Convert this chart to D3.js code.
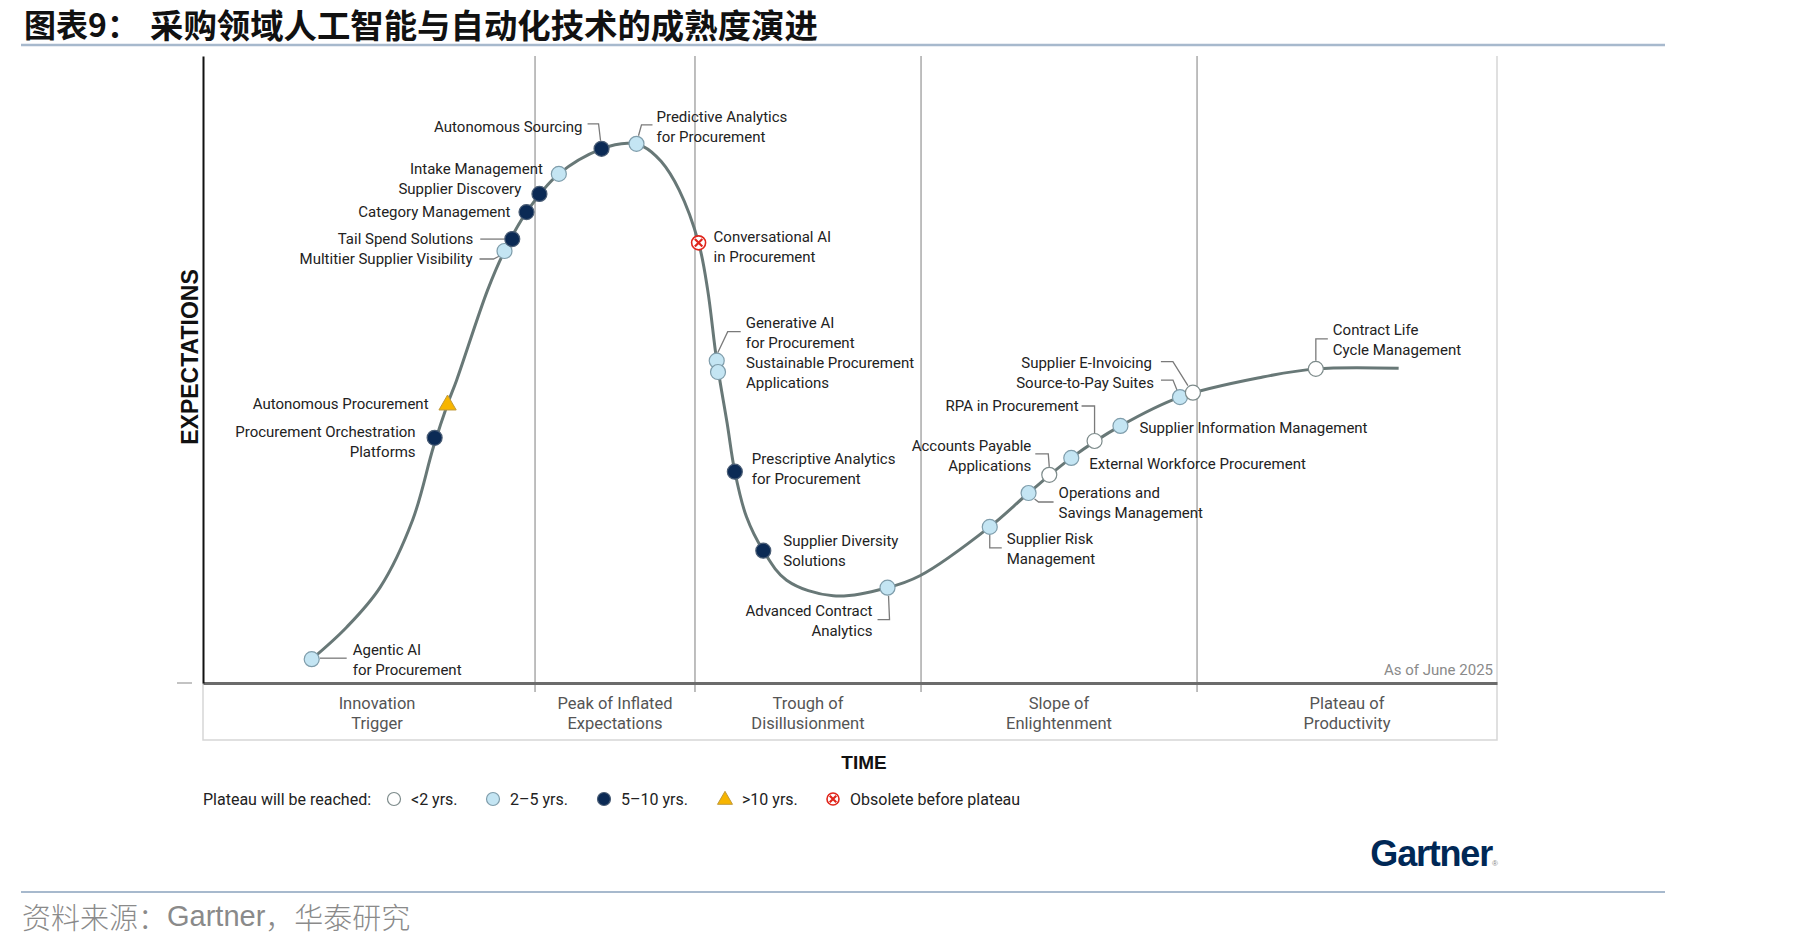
<!DOCTYPE html>
<html lang="zh">
<head>
  <meta charset="UTF-8">
  <title>采购领域人工智能与自动化技术的成熟度演进</title>
  <script src="https://d3js.org/d3.v7.min.js"></script>
  <style>
    body { margin: 0; background: #fff; }
    svg { display: block; }
  </style>
</head>
<body>
  <div class="canvas"></div>
  <script>
    // ---- data (time 0-100, expectations 0-100) ----
    const names = [
      'Agentic AI\nfor Procurement',
      'Procurement Orchestration\nPlatforms',
      'Autonomous Procurement',
      'Multitier Supplier Visibility',
      'Tail Spend Solutions',
      'Category Management',
      'Supplier Discovery',
      'Intake Management',
      'Autonomous Sourcing',
      'Predictive Analytics\nfor Procurement',
      'Conversational AI\nin Procurement',
      'Generative AI\nfor Procurement',
      'Sustainable Procurement\nApplications',
      'Prescriptive Analytics\nfor Procurement',
      'Supplier Diversity\nSolutions',
      'Advanced Contract\nAnalytics',
      'Supplier Risk\nManagement',
      'Operations and\nSavings Management',
      'Accounts Payable\nApplications',
      'External Workforce Procurement',
      'RPA in Procurement',
      'Supplier Information Management',
      'Source-to-Pay Suites',
      'Supplier E-Invoicing',
      'Contract Life\nCycle Management'
    ];
    const timeVals = [8.4, 17.9, 18.9, 23.3, 23.9, 25.0, 26.0, 27.5, 30.8, 33.5, 38.3, 39.7, 39.8,
                      41.1, 43.3, 52.9, 60.8, 63.8, 65.4, 67.1, 68.9, 70.9, 75.5, 76.5, 86.0];
    const expectVals = [3.8, 39.1, 44.5, 68.9, 70.8, 75.1, 78.0, 81.2, 85.2, 86.0, 70.2, 51.4, 49.6,
                        33.7, 21.1, 15.2, 24.9, 30.3, 33.2, 35.9, 38.6, 41.0, 45.6, 46.3, 50.1];
    const plateau = ['2-5', '5-10', '>10', '2-5', '5-10', '5-10', '5-10', '2-5', '5-10', '2-5',
                     'obsolete', '2-5', '2-5', '5-10', '5-10', '2-5', '2-5', '2-5', '<2', '2-5',
                     '<2', '2-5', '2-5', '<2', '<2'];

    // hype curve anchors [time, expectations]
    const curveT = [8.4, 11.1, 13.7, 16.2, 17.8, 18.9, 19.6, 22.0, 23.3, 25.0, 27.5, 30.8, 32.8, 34.0,
                    35.4, 36.8, 38.3, 39.0, 39.7, 40.5, 41.1, 42.0, 43.3, 45.1, 48.7, 52.9, 55.4,
                    60.8, 63.8, 67.1, 70.9, 75.5, 81.9, 86.0, 92.4];
    const curveE = [3.8, 8.9, 15.3, 26.0, 37.6, 44.5, 48.3, 62.7, 68.9, 75.1, 81.2, 85.2, 86.1, 85.6,
                    83.2, 78.6, 70.2, 62.7, 51.4, 41.5, 33.7, 26.5, 21.1, 16.4, 13.9, 15.2, 17.1,
                    24.9, 30.3, 35.9, 41.0, 45.6, 48.8, 50.1, 50.2];

    const phaseNames = ['Innovation\nTrigger', 'Peak of Inflated\nExpectations', 'Trough of\nDisillusionment',
                        'Slope of\nEnlightenment', 'Plateau of\nProductivity'];
    const phaseBounds = [0, 25.66, 38.02, 55.49, 76.82, 100];

    const legendKeys = ['<2', '2-5', '5-10', '>10', 'obsolete'];
    const legendLabels = ['<2 yrs.', '2–5 yrs.', '5–10 yrs.', '>10 yrs.', 'Obsolete before plateau'];

    // ---- label layout (pixel offsets from each marker) ----
    const labelLayout = [
      { dx: 41, dy: -9, a: 'start', c: [[8, -1], [35, -1]] },
      { dx: -19, dy: -6, a: 'end' },
      { dx: -19, dy: 0, a: 'end' },
      { dx: -32, dy: 8, a: 'end', c: [[-25, 8], [-11, 8], [-5, 5]] },
      { dx: -39, dy: 0, a: 'end', c: [[-32, 0], [-8, 0]] },
      { dx: -16, dy: 0, a: 'end' },
      { dx: -18, dy: -5, a: 'end' },
      { dx: -16, dy: -5, a: 'end' },
      { dx: -19, dy: -22, a: 'end', c: [[-14, -25], [-3, -25], [-1, -8]] },
      { dx: 20, dy: -27, a: 'start', c: [[2, -8], [5, -19], [16, -19]] },
      { dx: 15, dy: -6, a: 'start' },
      { dx: 29, dy: -38, a: 'start', c: [[1, -8], [11, -29], [24, -29]] },
      { dx: 28, dy: -9, a: 'start' },
      { dx: 17, dy: -13, a: 'start' },
      { dx: 20, dy: -10, a: 'start' },
      { dx: -15, dy: 23, a: 'end', c: [[1, 8], [2, 32], [-10, 32]] },
      { dx: 17, dy: 12, a: 'start', c: [[0, 8], [0, 21], [12, 21]] },
      { dx: 30, dy: 0, a: 'start', c: [[6, 6], [10, 9], [25, 9]] },
      { dx: -18, dy: -29, a: 'end', c: [[-14, -21], [-1, -21], [0, -8]] },
      { dx: 18, dy: 6, a: 'start' },
      { dx: -16, dy: -35, a: 'end', c: [[-13, -35], [0, -35], [0, -8]] },
      { dx: 19, dy: 2, a: 'start' },
      { dx: -26, dy: -14, a: 'end', c: [[-19, -17], [-7, -17], [-3, -7]] },
      { dx: -41, dy: -30, a: 'end', c: [[-32, -31], [-20, -31], [-5, -7]] },
      { dx: 17, dy: -39, a: 'start', c: [[0, -8], [0, -30], [12, -30]] }
    ];

    const width = 1819;
    const height = 947;
    const [ml, mr, mt, mb] = [203, 1497, 56, 683];
    const labelFont = 'Roboto, "Noto Sans", sans-serif';
    const markerStyle = {
      '<2': { fill: '#ffffff', stroke: '#7d8b8b' },
      '2-5': { fill: '#c4e5f3', stroke: '#7f9dab' },
      '5-10': { fill: '#0b2a55', stroke: '#4a5d75' },
      '>10': { fill: '#f7b500', stroke: '#c09a3c' },
      'obsolete': { fill: '#ffffff', stroke: '#e0251b' }
    };

    const svg = d3.select('.canvas')
      .append('svg')
      .attr('width', width)
      .attr('height', height);

    // title & frame
    const titleFont = '"Noto Sans CJK SC", sans-serif';
    svg.append('text')
      .attr('x', 24).attr('y', 23)
      .attr('dominant-baseline', 'central')
      .style('font-family', titleFont).style('font-weight', 700)
      .style('font-size', '32px').style('fill', '#111')
      .text('图表9：');
    svg.append('text')
      .attr('x', 150).attr('y', 23)
      .attr('dominant-baseline', 'central')
      .style('font-family', titleFont).style('font-weight', 700)
      .style('font-size', '33.4px').style('fill', '#111')
      .text('采购领域人工智能与自动化技术的成熟度演进');

    svg.append('line')
      .attr('x1', 21).attr('x2', 1665).attr('y1', 45).attr('y2', 45)
      .style('stroke', '#a7b9cd').style('stroke-width', 2.5);
    svg.append('line')
      .attr('x1', 21).attr('x2', 1665).attr('y1', 892).attr('y2', 892)
      .style('stroke', '#a7b9cd').style('stroke-width', 2);

    const src = svg.append('text')
      .attr('x', 22).attr('y', 916)
      .attr('dominant-baseline', 'central')
      .style('fill', '#8a8a8a')
      .style('font-size', '29px')
      .style('font-family', '"Noto Sans CJK SC", sans-serif')
      .style('font-weight', 300);
    src.append('tspan').text('资料来源：');
    src.append('tspan').style('font-family', '"Liberation Sans", Arial, sans-serif')
      .style('font-size', '29px').style('font-weight', 400).text('Gartner');
    src.append('tspan').text('，华泰研究');

    // scales
    const x = d3.scaleLinear().domain([0, 100]).range([ml, mr]);
    const y = d3.scaleLinear().domain([0, 100]).range([mb, mt]);

    // phase box
    svg.append('path')
      .attr('d', `M${ml},${mb}V740H${mr}V${mt}`)
      .style('fill', 'none').style('stroke', '#d6d6d6').style('stroke-width', 1.5);

    // phase dividers
    svg.selectAll('.divider')
      .data(phaseBounds.slice(1, -1))
      .enter()
      .append('line')
      .attr('class', 'divider')
      .attr('x1', d => x(d)).attr('x2', d => x(d))
      .attr('y1', mt).attr('y2', mb + 9)
      .style('stroke', '#a9a9a9').style('stroke-width', 1.5);

    // axes
    const xAxis = svg.append('g')
      .attr('transform', `translate(0,${mb})`)
      .call(d3.axisBottom(x).tickValues([]).tickSizeOuter(0));
    xAxis.select('.domain').style('stroke', '#6b6b6b').style('stroke-width', 3);

    const yAxis = svg.append('g')
      .attr('transform', `translate(${ml},0)`)
      .call(d3.axisLeft(y).tickValues([]).tickSizeOuter(0));
    yAxis.select('.domain').style('stroke', '#111').style('stroke-width', 2);

    svg.append('line')
      .attr('x1', ml - 26).attr('x2', ml - 11).attr('y1', mb).attr('y2', mb)
      .style('stroke', '#9a9a9a').style('stroke-width', 1.2);

    // phase labels
    phaseNames.forEach((p, i) => {
      const cx = x((phaseBounds[i] + phaseBounds[i + 1]) / 2) + (i === 0 ? 8 : 0);
      const t = svg.append('text')
        .attr('text-anchor', 'middle')
        .style('font-family', labelFont)
        .style('font-size', '16.5px')
        .style('fill', '#555');
      p.split('\n').forEach((line, j) => {
        t.append('tspan').attr('x', cx).attr('y', 703 + j * 20)
          .attr('dominant-baseline', 'central').text(line);
      });
    });

    svg.append('text')
      .attr('x', mr - 4).attr('y', 670)
      .attr('text-anchor', 'end').attr('dominant-baseline', 'central')
      .style('font-family', labelFont).style('font-size', '15px').style('fill', '#8a8a8a')
      .text('As of June 2025');

    // axis titles
    svg.append('text')
      .attr('x', 864).attr('y', 762)
      .attr('text-anchor', 'middle').attr('dominant-baseline', 'central')
      .style('font-family', '"Liberation Sans", Arial, sans-serif')
      .style('font-weight', 700).style('font-size', '19px').style('fill', '#111')
      .text('TIME');

    svg.append('text')
      .attr('transform', 'translate(190,357) rotate(-90)')
      .attr('text-anchor', 'middle').attr('dominant-baseline', 'central')
      .style('font-family', '"Liberation Sans", Arial, sans-serif')
      .style('font-weight', 700).style('font-size', '23px').style('fill', '#111')
      .text('EXPECTATIONS');

    // hype curve
    const curvePts = curveT.map((t, i) => [t, curveE[i]]);
    const line = d3.line()
      .x(d => x(d[0]))
      .y(d => y(d[1]))
      .curve(d3.curveCatmullRom.alpha(0.5));

    svg.append('path')
      .datum(curvePts)
      .attr('d', line)
      .style('fill', 'none')
      .style('stroke', '#687877')
      .style('stroke-width', 3);

    // markers
    function drawMarker(g, key, r) {
      const s = markerStyle[key];
      if (key === '>10') {
        g.append('path')
          .attr('d', d3.symbol(d3.symbolTriangle, r * r * 2.3)())
          .attr('transform', 'translate(0,1)')
          .style('fill', s.fill).style('stroke', s.stroke).style('stroke-width', 1);
      } else if (key === 'obsolete') {
        g.append('circle').attr('r', r - 0.5)
          .style('fill', s.fill).style('stroke', s.stroke).style('stroke-width', 1.6);
        const k = r * 0.5;
        g.append('path')
          .attr('d', `M${-k},${-k}L${k},${k}M${-k},${k}L${k},${-k}`)
          .style('stroke', s.stroke).style('stroke-width', 2.2);
      } else {
        g.append('circle').attr('r', r)
          .style('fill', s.fill).style('stroke', s.stroke).style('stroke-width', 1.2);
      }
    }

    const items = names.map((n, i) => ({
      name: n, t: timeVals[i], e: expectVals[i], key: plateau[i], lay: labelLayout[i]
    }));

    // connectors
    items.filter(d => d.lay.c).forEach(d => {
      const px = x(d.t), py = y(d.e);
      svg.append('path')
        .attr('d', d3.line()(d.lay.c.map(p => [px + p[0], py + p[1]])))
        .style('fill', 'none').style('stroke', '#7a7a7a').style('stroke-width', 1.3);
    });

    items.forEach(d => {
      const g = svg.append('g').attr('transform', `translate(${x(d.t)},${y(d.e)})`);
      drawMarker(g, d.key, 7.5);
    });

    // labels
    items.forEach(d => {
      const px = x(d.t) + d.lay.dx, py = y(d.e) + d.lay.dy;
      const t = svg.append('text')
        .attr('text-anchor', d.lay.a)
        .style('font-family', labelFont)
        .style('font-size', '15px')
        .style('fill', '#222');
      d.name.split('\n').forEach((l, j) => {
        t.append('tspan').attr('x', px).attr('y', py + j * 20)
          .attr('dominant-baseline', 'central').text(l);
      });
    });

    // legend
    const legend = svg.append('g').attr('transform', 'translate(203,799)');
    legend.append('text')
      .attr('dominant-baseline', 'central')
      .style('font-family', labelFont).style('font-size', '16px').style('fill', '#222')
      .text('Plateau will be reached:');
    const legendX = [191, 290, 401, 522, 630];
    legendKeys.forEach((k, i) => {
      const g = legend.append('g').attr('transform', `translate(${legendX[i]},0)`);
      drawMarker(g, k, 6.5);
      g.append('text')
        .attr('x', 17).attr('dominant-baseline', 'central')
        .style('font-family', labelFont).style('font-size', '16px').style('fill', '#222')
        .text(legendLabels[i]);
    });

    // logo
    svg.append('text')
      .attr('x', 1492).attr('y', 866)
      .attr('text-anchor', 'end')
      .style('font-family', '"Liberation Sans", Arial, sans-serif')
      .style('font-weight', 700).style('font-size', '36px')
      .style('letter-spacing', '-1.2px')
      .style('fill', '#002856')
      .text('Gartner');
    svg.append('text')
      .attr('x', 1492).attr('y', 866)
      .style('font-family', '"Liberation Sans", Arial, sans-serif')
      .style('font-size', '8px').style('fill', '#8a8a8a')
      .text('®');
  </script>
</body>
</html>
